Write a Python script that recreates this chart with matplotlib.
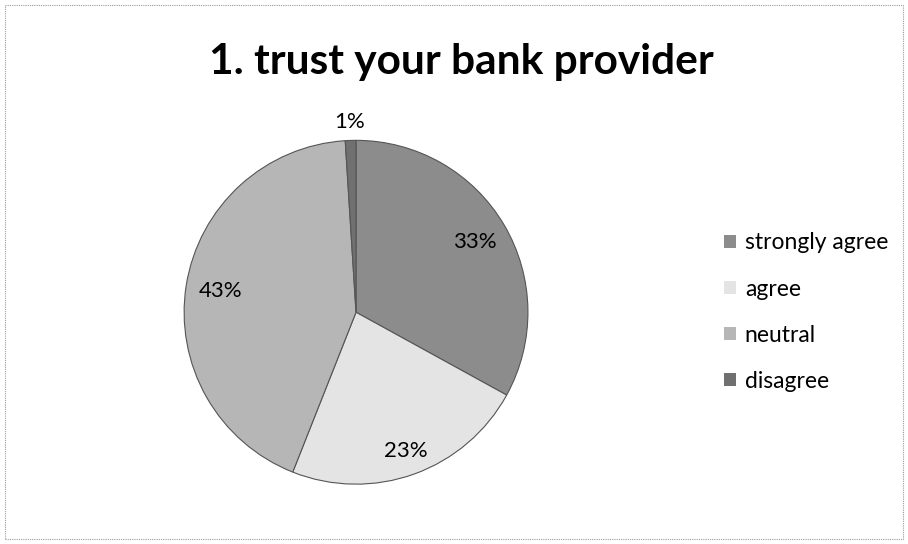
import matplotlib.pyplot as plt
import matplotlib.patches as mpatches
import numpy as np

plt.rcParams['font.family'] = ['Lato', 'DejaVu Sans']

answers = ["strongly agree", "agree", "neutral", "disagree"]
shares = [33, 23, 43, 1]
greys = ["#8c8c8c", "#e4e4e4", "#b6b6b6", "#707070"]
label_dist = [0.80, 0.86, 0.80, 1.11]

fig = plt.figure(figsize=(9.08, 5.44), dpi=100)

# chart frame
fig.patches.append(mpatches.Rectangle((0.006, 0.01), 0.988, 0.98, transform=fig.transFigure,
                                      fill=False, edgecolor="#9a9a9a", linewidth=0.8,
                                      linestyle=(0, (1, 1))))

fig.text(0.508, 0.886, "1. trust your bank provider", ha="center", va="center",
         fontsize=30.5, fontweight="bold")

ax = fig.add_axes([0.2026, 0.110, 0.379, 0.632])
wedges, _ = ax.pie(shares, colors=greys, startangle=90, counterclock=False,
                   wedgeprops=dict(edgecolor="#555555", linewidth=0.8))
ax.set_xlim(-1, 1)
ax.set_ylim(-1, 1)
ax.set_aspect("equal")

for w, v, d in zip(wedges, shares, label_dist):
    ang = np.deg2rad((w.theta1 + w.theta2) / 2)
    ax.text(d * np.cos(ang), d * np.sin(ang), "%d%%" % v, ha="center", va="center",
            fontsize=16, clip_on=False)

handles = [mpatches.Patch(facecolor=c, edgecolor="none") for c in greys]
fig.legend(handles, answers, loc="center left", bbox_to_anchor=(0.785, 0.426),
           frameon=False, fontsize=16.5, handlelength=0.5, handleheight=0.5,
           handletextpad=0.4, labelspacing=1.1, borderpad=0)

fig.savefig("out.png", dpi=100)
